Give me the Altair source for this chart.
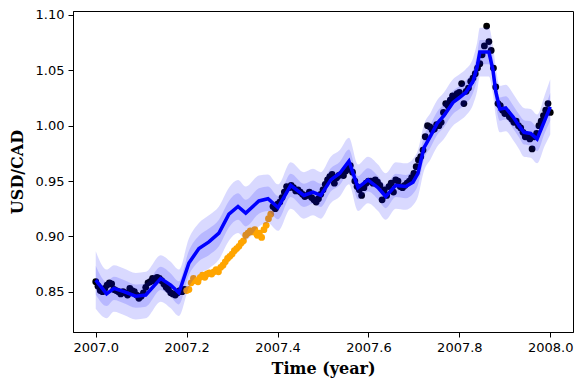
import altair as alt
import numpy as np
import pandas as pd

obs_a = [0.859, 0.855, 0.851, 0.850, 0.853, 0.856, 0.858, 0.857, 0.852, 0.851,
         0.850, 0.848, 0.850, 0.849, 0.847, 0.853, 0.851, 0.850, 0.847, 0.844,
         0.846, 0.849, 0.854, 0.858, 0.859, 0.862, 0.860, 0.863, 0.862, 0.860,
         0.857, 0.854, 0.852, 0.849, 0.848, 0.847, 0.849, 0.851, 0.850, 0.852]
held_out = [0.851, 0.852, 0.858, 0.862, 0.860, 0.859, 0.863, 0.865, 0.863, 0.866,
            0.867, 0.866, 0.868, 0.870, 0.868, 0.872, 0.874, 0.877, 0.880, 0.882,
            0.884, 0.887, 0.889, 0.891, 0.894, 0.896, 0.901, 0.903, 0.905, 0.904,
            0.906, 0.901, 0.903, 0.899, 0.906, 0.910, 0.916, 0.920]
obs_c = [0.927, 0.925, 0.929, 0.931, 0.935, 0.940, 0.945, 0.944, 0.946, 0.944,
         0.941, 0.942, 0.940, 0.938, 0.936, 0.937, 0.940, 0.935, 0.933, 0.931,
         0.934, 0.938, 0.942, 0.947, 0.951, 0.954, 0.956, 0.948, 0.953, 0.955,
         0.956, 0.955, 0.959, 0.961, 0.964, 0.958, 0.950, 0.945, 0.942, 0.937,
         0.944, 0.948, 0.950]
obs_d = [0.950, 0.948, 0.951, 0.949, 0.946, 0.933, 0.942, 0.937, 0.945, 0.948,
         0.940, 0.951, 0.950, 0.945, 0.944, 0.946, 0.948, 0.950, 0.953, 0.957,
         0.963, 0.969, 0.972, 0.978, 0.990, 1.000, 0.999, 0.996, 0.997, 1.001,
         1.000, 1.003, 1.012, 1.020, 1.018, 1.023, 1.027, 1.025, 1.029, 1.030,
         1.038, 1.020, 1.031, 1.034, 1.040, 1.043, 1.047, 1.052, 1.056]
obs_e = [1.064, 1.072, 1.090, 1.076, 1.068, 1.052, 1.035, 1.020, 1.018, 1.014,
         1.011, 1.012, 1.008, 1.006, 1.003, 1.004, 1.000, 0.998, 0.994, 0.990,
         0.991, 0.988, 0.979, 0.990, 0.993, 1.000, 1.004, 1.009, 1.014, 1.020,
         1.012]

# ---- GP posterior mean (coarse prediction grid) and std ----
mean_t = [2007.000, 2007.024, 2007.040, 2007.062, 2007.088, 2007.110, 2007.143,
          2007.165, 2007.183, 2007.205, 2007.227, 2007.249, 2007.271, 2007.293,
          2007.313, 2007.330, 2007.359, 2007.379, 2007.401, 2007.429, 2007.458,
          2007.478, 2007.495, 2007.517, 2007.537, 2007.557, 2007.577, 2007.599,
          2007.621, 2007.638, 2007.660, 2007.682, 2007.698, 2007.709, 2007.722,
          2007.737, 2007.751, 2007.766, 2007.786, 2007.799, 2007.814, 2007.830,
          2007.839, 2007.845, 2007.865, 2007.874, 2007.880, 2007.889, 2007.902,
          2007.918, 2007.931, 2007.942, 2007.957, 2007.971, 2007.988, 2008.000]
mean_v = [0.8605, 0.848, 0.853, 0.850, 0.846, 0.847, 0.862,
          0.856, 0.849, 0.876, 0.889, 0.895, 0.903, 0.920,
          0.927, 0.921, 0.932, 0.934, 0.926, 0.946, 0.937,
          0.940, 0.937, 0.951, 0.957, 0.968, 0.944, 0.951,
          0.944, 0.936, 0.946, 0.945, 0.949, 0.957, 0.980,
          0.991, 1.002, 1.009, 1.021, 1.025, 1.030, 1.040,
          1.053, 1.0665, 1.0665, 1.050, 1.031, 1.015, 1.016,
          1.008, 1.000, 0.994, 0.993, 0.988, 1.005, 1.017]
sigma = [0.013, 0.011, 0.0105, 0.0105, 0.0105, 0.0105, 0.0105,
         0.0105, 0.0105, 0.011, 0.0115, 0.012, 0.012, 0.012,
         0.012, 0.012, 0.0115, 0.011, 0.0105, 0.0105, 0.0105,
         0.0105, 0.0105, 0.0105, 0.0105, 0.0105, 0.0105, 0.0105,
         0.0105, 0.0105, 0.0105, 0.0105, 0.0105, 0.0105, 0.0105,
         0.0105, 0.0105, 0.0105, 0.0105, 0.0105, 0.0105, 0.0105,
         0.011, 0.011, 0.011, 0.011, 0.011, 0.0105, 0.0105,
         0.0105, 0.0105, 0.011, 0.011, 0.011, 0.0115, 0.0125]

x_ticks = [2007.0, 2007.2, 2007.4, 2007.6, 2007.8, 2008.0]
y_ticks = [0.85, 0.90, 0.95, 1.00, 1.05, 1.10]

# ---- tables ----
values = obs_a + held_out + obs_c + obs_d + obs_e
years = np.round(2007.0 + 0.005 * np.arange(len(values)), 3)
n_a = len(obs_a)
kind = ["obs"] * n_a + ["held"] * len(held_out) + ["obs"] * (len(values) - n_a - len(held_out))
pts = pd.DataFrame({"t": years, "v": values, "kind": kind})
obs_df = pts[pts.kind == "obs"]
held_df = pts[pts.kind == "held"]

gp = pd.DataFrame({"t": mean_t, "m": mean_v, "s": sigma})
gp["lo1"] = gp.m - gp.s
gp["hi1"] = gp.m + gp.s
gp["lo2"] = gp.m - 2 * gp.s
gp["hi2"] = gp.m + 2 * gp.s

xs = alt.Scale(domain=[2006.95, 2008.05], nice=False, zero=False)
ys = alt.Scale(domain=[0.8136, 1.1036], nice=False, zero=False)
xax = alt.Axis(values=x_ticks, format=".1f", title="Time (year)", titlePadding=6)
yax = alt.Axis(values=y_ticks, format=".2f", title="USD/CAD", titlePadding=10)

X = alt.X("t:Q", scale=xs, axis=xax)

obs_layer = alt.Chart(obs_df).mark_circle(size=46, color="black", opacity=1).encode(
    x=X, y=alt.Y("v:Q", scale=ys, axis=yax))
held_layer = alt.Chart(held_df).mark_circle(size=46, color="#ffa500", opacity=1).encode(
    x=X, y=alt.Y("v:Q", scale=ys, axis=yax))
line_layer = alt.Chart(gp).mark_line(color="#0000ff", strokeWidth=3.5).encode(
    x=X, y=alt.Y("m:Q", scale=ys, axis=yax))
band2 = alt.Chart(gp).mark_area(color="#0000ff", opacity=0.15, interpolate="monotone").encode(
    x=X, y=alt.Y("lo2:Q", scale=ys, axis=yax), y2="hi2:Q")
band1 = alt.Chart(gp).mark_area(color="#0000ff", opacity=0.15, interpolate="monotone").encode(
    x=X, y=alt.Y("lo1:Q", scale=ys, axis=yax), y2="hi1:Q")

chart = alt.layer(obs_layer, held_layer, line_layer, band2, band1).properties(
    width=500, height=321,
    autosize=alt.AutoSizeParams(type="none"),
    padding={"left": 65, "top": 3, "right": 7, "bottom": 49},
    background="white",
).configure_axis(
    labelFont="DejaVu Sans", labelFontSize=13, labelColor="black",
    tickColor="black", domainColor="black", tickSize=5, labelPadding=4,
    grid=False, titleFont="DejaVu Serif", titleFontWeight="bold",
    titleFontSize=16, titleColor="black",
).configure_view(stroke="black", strokeWidth=1)

chart.save("out.html", embed_options={"renderer": "svg", "actions": False})
